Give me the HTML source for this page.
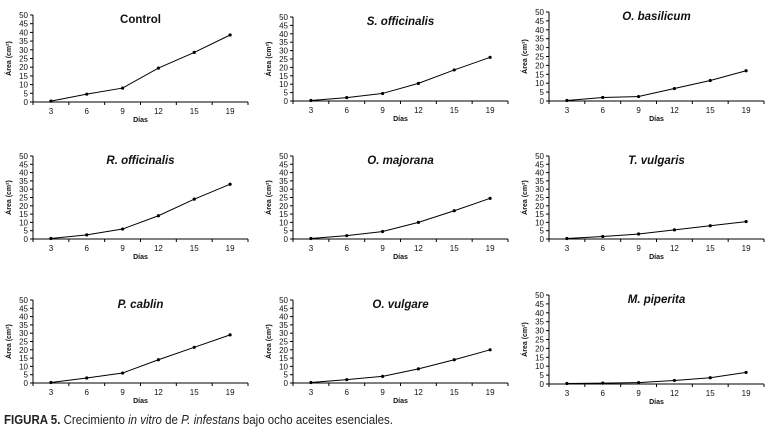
<!DOCTYPE html>
<html><head><meta charset="utf-8"><style>
html,body{margin:0;padding:0;background:#fff;}
body{width:772px;height:435px;overflow:hidden;position:relative;font-family:"Liberation Sans Narrow","Liberation Sans",sans-serif;}
</style></head><body>
<svg id="fig" width="772" height="435" xmlns="http://www.w3.org/2000/svg" style="position:absolute;left:0;top:0;font-family:'Liberation Sans Narrow','Liberation Sans',sans-serif;">
<text x="4" y="424" font-size="12.5" fill="#222" textLength="389" lengthAdjust="spacingAndGlyphs"><tspan font-weight="bold">FIGURA 5.</tspan> Crecimiento <tspan font-style="italic">in vitro</tspan> de <tspan font-style="italic">P. infestans</tspan> bajo ocho aceites esenciales.</text>
</svg>
<script>
const categories = ["3","6","9","12","15","19"];
const yTicks = [0,5,10,15,20,25,30,35,40,45,50];
const titles = ["Control","S. officinalis","O. basilicum","R. officinalis","O. majorana","T. vulgaris","P. cablin","O. vulgare","M. piperita"];
const controlValues = [0.5,4.5,8,19.5,28.5,38.5];
const sOfficinalisValues = [0.3,2,4.5,10.5,18.5,26];
const oBasilicumValues = [0.3,2,2.5,7,11.5,17];
const rOfficinalisValues = [0.3,2.5,6,14,24,33];
const oMajoranaValues = [0.3,2,4.5,10,17,24.5];
const tVulgarisValues = [0.3,1.5,3,5.5,8,10.5];
const pCablinValues = [0.3,3,6,14,21.5,29];
const oVulgareValues = [0.3,2,4,8.5,14,20];
const mPiperitaValues = [0.3,0.5,0.8,2,3.5,6.5];
const seriesList = [controlValues,sOfficinalisValues,oBasilicumValues,rOfficinalisValues,oMajoranaValues,tVulgarisValues,pCablinValues,oVulgareValues,mPiperitaValues];

const NS="http://www.w3.org/2000/svg";
const svg=document.getElementById('fig');
const panels=[
 {x:33,top:15,bot:102},{x:293,top:17,bot:101},{x:549,top:12,bot:101},
 {x:33,top:156,bot:239},{x:293,top:156,bot:239},{x:549,top:156,bot:239},
 {x:33,top:300,bot:383},{x:293,top:300,bot:383},{x:549,top:295,bot:384}
];
function mk(tag,attrs,parent){const e=document.createElementNS(NS,tag);for(const k in attrs)e.setAttribute(k,attrs[k]);(parent||svg).appendChild(e);return e;}
panels.forEach((p,i)=>{
  const W=215, n=categories.length, bw=W/n;
  const g=mk('g',{});
  
  
  const yS=v=>p.bot-(v/50)*(p.bot-p.top);
  const xS=j=>p.x+bw*(j+0.5);
  const ya=mk('line',{x1:p.x,y1:p.top,x2:p.x,y2:p.bot,stroke:'#000','stroke-width':1},g);
  
  
  const xa=mk('line',{x1:p.x,y1:p.bot,x2:p.x+W,y2:p.bot,stroke:'#000','stroke-width':1},g);
  
  
  yTicks.forEach(t=>{
    mk('line',{x1:p.x-3,y1:yS(t),x2:p.x,y2:yS(t),stroke:'#000'},g);
    const tx=mk('text',{x:p.x-5,y:yS(t)+3,'font-size':8,'text-anchor':'end',fill:'#111'},g);
    tx.textContent=t;
    
    
  });
  for(let j=0;j<=n;j++) mk('line',{x1:p.x+bw*j,y1:p.bot,x2:p.x+bw*j,y2:p.bot+3,stroke:'#000'},g);
  categories.forEach((c,j)=>{
    const tx=mk('text',{x:xS(j),y:p.bot+12,'font-size':8,'text-anchor':'middle',fill:'#111'},g);
    tx.textContent=c;
    
    
  });
  const xt=mk('text',{x:p.x+W/2,y:p.bot+20,'font-size':7,'font-weight':'bold','text-anchor':'middle',fill:'#111'},g);
  xt.textContent='Días';
  
  
  const ym=(p.top+p.bot)/2;
  const yt=mk('text',{x:p.x-22,y:ym,'font-size':7,'font-weight':'bold','text-anchor':'middle',fill:'#111',transform:`rotate(-90 ${p.x-22} ${ym})`},g);
  yt.textContent='Área (cm²)';
  
  
  const tt=mk('text',{x:p.x+W/2,y:p.top+8,'font-size':11.5,'font-weight':'bold','text-anchor':'middle',fill:'#111'},g);
  if(i>0) tt.setAttribute('font-style','italic');
  tt.textContent=titles[i];
  
  
  const vals=seriesList[i];
  const pts=vals.map((v,j)=>xS(j)+','+yS(v)).join(' ');
  const pl=mk('polyline',{points:pts,fill:'none',stroke:'#000','stroke-width':1},g);
  
  
  vals.forEach((v,j)=>{
    const c=mk('circle',{cx:xS(j),cy:yS(v),r:1.6,fill:'#000'},g);
    
    
  });
});
</script>
</body></html>
